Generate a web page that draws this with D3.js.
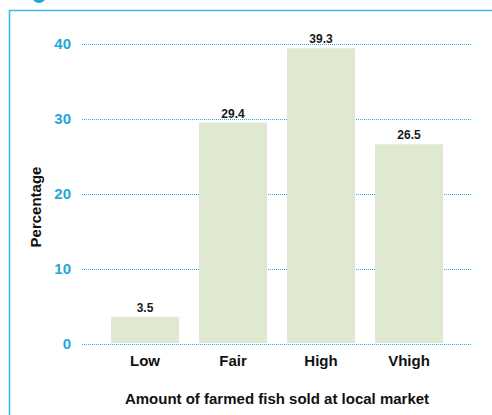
<!DOCTYPE html>
<html>
<head>
<meta charset="utf-8">
<script src="https://cdn.jsdelivr.net/npm/d3@7"></script>
<style>
  body { margin: 0; background: #fff; }
  svg { display: block; font-family: "Liberation Sans", Arial, sans-serif; }
</style>
</head>
<body>
<div class="chart"></div>
<script>
const categories = ['Low', 'Fair', 'High', 'Vhigh'];
const percentages = [3.5, 29.4, 39.3, 26.5];
const yTicks = [0, 10, 20, 30, 40];

const createChart = () => {
  const width = 492;
  const height = 415;
  const blue = '#1fa8d8';

  const svg = d3.select('.chart')
    .append('svg')
    .attr('width', width)
    .attr('height', height);

  // frame around the panel
  svg.append('path')
    .attr('d', `M9.5,${height} V10.5 H${width}`)
    .attr('fill', 'none')
    .attr('stroke', '#3cbce4')
    .attr('stroke-width', 1.6);

  // bit of the heading icon cut off at the top
  svg.append('circle')
    .attr('cx', 39)
    .attr('cy', -4)
    .attr('r', 5.5)
    .attr('fill', 'none')
    .attr('stroke', blue)
    .attr('stroke-width', 3);

  const x = d3.scaleBand()
    .domain(categories)
    .range([91, 463])
    .paddingInner(20 / 88)
    .paddingOuter(20 / 88);

  const y = d3.scaleLinear()
    .domain([0, 40])
    .range([343, 43]);

  /* gridlines */
  const yAxis = d3.axisLeft(y)
    .tickValues(yTicks)
    .tickSize(-390)
    .tickPadding(11);

  const yAxisGroup = svg.append('g')
    .attr('transform', 'translate(82,0.5)')
    .call(yAxis);

  yAxisGroup.select('.domain').remove();
  yAxisGroup.selectAll('line')
    .attr('stroke', '#1fb0dc')
    .attr('stroke-width', 1)
    .attr('stroke-dasharray', '1,1')
    .attr('shape-rendering', 'crispEdges');
  yAxisGroup.selectAll('text')
    .attr('fill', blue)
    .attr('font-size', 15)
    .attr('font-weight', 'bold')
    .attr('font-family', '"Liberation Sans", Arial, sans-serif');

  /* bars */
  svg.append('g')
    .selectAll('rect')
    .data(percentages)
    .enter().append('rect')
    .attr('x', (d, i) => x(categories[i]))
    .attr('y', d => y(d))
    .attr('width', x.bandwidth())
    .attr('height', d => y(0) - y(d))
    .attr('fill', '#dfe8d1');

  svg.append('g')
    .selectAll('text')
    .data(percentages)
    .enter().append('text')
    .attr('x', (d, i) => x(categories[i]) + x.bandwidth() / 2)
    .attr('y', d => y(d) - 5)
    .attr('text-anchor', 'middle')
    .attr('font-size', 12)
    .attr('font-weight', 'bold')
    .attr('fill', '#1a1a1a')
    .text(d => d.toFixed(1));

  /* X */
  const xAxis = d3.axisBottom(x)
    .tickSize(0)
    .tickPadding(12);

  const xAxisGroup = svg.append('g')
    .attr('transform', 'translate(0,343)')
    .call(xAxis);

  xAxisGroup.select('.domain').remove();
  xAxisGroup.selectAll('text')
    .attr('fill', '#111')
    .attr('font-size', 15)
    .attr('font-weight', 'bold')
    .attr('font-family', '"Liberation Sans", Arial, sans-serif');

  svg.append('text')
    .attr('x', 277)
    .attr('y', 404)
    .attr('text-anchor', 'middle')
    .attr('font-size', 15)
    .attr('font-weight', 'bold')
    .attr('fill', '#111')
    .text('Amount of farmed fish sold at local market');

  svg.append('text')
    .attr('transform', 'translate(41,207) rotate(-90)')
    .attr('text-anchor', 'middle')
    .attr('font-size', 15)
    .attr('font-weight', 'bold')
    .attr('fill', '#111')
    .text('Percentage');
};

createChart();
</script>
</body>
</html>
